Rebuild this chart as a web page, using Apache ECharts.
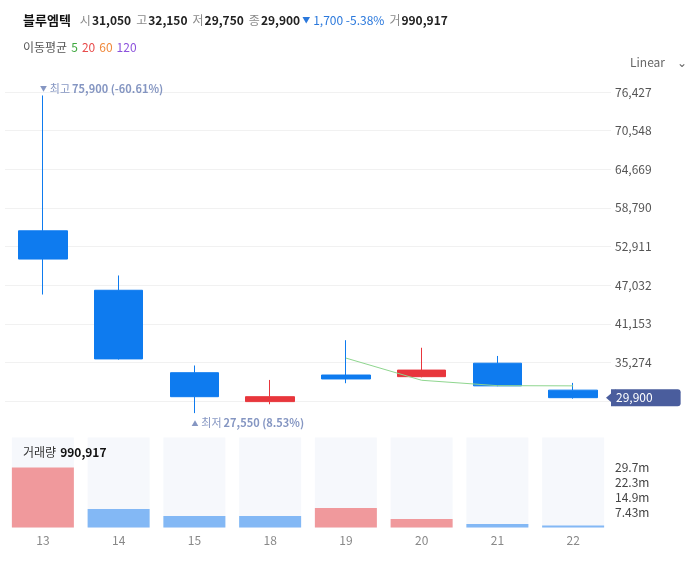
<!DOCTYPE html>
<html>
<head>
<meta charset="utf-8">
<script src="https://cdn.jsdelivr.net/npm/echarts@6/dist/echarts.min.js"></script>
<style>
html,body{margin:0;padding:0;background:#fff;}
#chart{width:693px;height:566px;}
</style>
</head>
<body>
<div id="chart"></div>
<script>
// ---- data ----
var categories = ['13', '14', '15', '18', '19', '20', '21', '22'];
var openValues  = [55300, 46250, 33700, 29300, 33350, 33100, 35150, 31050];
var closeValues = [51000, 35800, 30050, 30050, 32750, 34100, 31700, 29900];
var lowValues   = [45600, 35700, 27550, 28900, 32100, 33000, 31650, 29750];
var highValues  = [75900, 48500, 34800, 32600, 38650, 37500, 36250, 32150];
var ma5Values   = [null, null, null, null, 35930, 32550, 31730, 31700];
var volumeValues = [29700000, 9200000, 5700000, 5700000, 9650000, 4200000, 1700000, 990917];
var volumeUp     = [true, false, false, false, true, true, false, false];
var priceTickStep = 5879;
var priceAxisMin = 29395;
var priceAxisMax = 76427;
var volumeTickStep = 7430000;
var volumeAxisMax = 44580000;
var lastClose = 29900;
var highLabel = { idx: 0, value: 75900, text: '최고', pct: '(-60.61%)' };
var lowLabel  = { idx: 2, value: 27550, text: '최저', pct: '(8.53%)' };

function fmt(n) { return String(n).replace(/\B(?=(\d{3})+(?!\d))/g, ','); }

var FONT = "'Noto Sans CJK KR', 'Noto Sans', sans-serif";
var UP = '#e8363c', DOWN = '#0e7bef';
var MARK = '#667cb3';

var candleData = categories.map(function (c, i) {
  return [openValues[i], closeValues[i], lowValues[i], highValues[i]];
});

function extremeLabel(arrow, item, offset) {
  return {
    value: [item.idx, item.value],
    label: {
      show: true, position: 'right', distance: 0, offset: offset,
      formatter: '{a|' + arrow + '}{t|' + item.text + '}{n|' + fmt(item.value) + ' ' + item.pct + '}',
      rich: {
        a: { fontSize: 7, color: MARK, fontFamily: FONT, padding: [0, 3, 0, 0] },
        t: { fontSize: 11, color: MARK, fontFamily: FONT, padding: [0, 2, 0, 0] },
        n: { fontSize: 11, color: MARK, fontWeight: 'bold', fontFamily: FONT }
      }
    }
  };
}

var chart = echarts.init(document.getElementById('chart'), null, { renderer: 'canvas' });

var option = {
  animation: false,
  backgroundColor: '#ffffff',
  textStyle: { fontFamily: FONT },
  title: [
    {
      left: 23, top: 11, padding: 0,
      text: '{n|블루엠텍}{l|시}{v|31,050}{l|고}{v|32,150}{l|저}{v|29,750}{l|종}{w|29,900}{a|▼}{b|1,700 -5.38%}{l|거}{v|990,917}',
      textStyle: {
        fontFamily: FONT, fontWeight: 'normal',
        rich: {
          n: { fontSize: 13, fontWeight: 'bold', color: '#111', fontFamily: FONT, lineHeight: 18, padding: [0, 9, 0, 0] },
          l: { fontSize: 12, fontWeight: 'normal', color: '#8a8a8a', fontFamily: FONT, lineHeight: 18, padding: [0, 1, 0, 0] },
          v: { fontSize: 12, fontWeight: 'bold', color: '#222', fontFamily: FONT, lineHeight: 18, padding: [0, 5, 0, 0] },
          w: { fontSize: 12, fontWeight: 'bold', color: '#222', fontFamily: FONT, lineHeight: 18, padding: [0, 2, 0, 0] },
          a: { fontSize: 8, fontWeight: 'normal', color: '#2a78dc', fontFamily: FONT, lineHeight: 18, padding: [0, 3, 0, 0] },
          b: { fontSize: 12, fontWeight: 'normal', color: '#2a78dc', fontFamily: FONT, lineHeight: 18, padding: [0, 5, 0, 0] }
        }
      }
    },
    {
      left: 23, top: 38, padding: 0,
      text: '{l|이동평균} {g|5} {r|20} {o|60} {p|120}',
      textStyle: {
        fontFamily: FONT, fontWeight: 'normal',
        rich: {
          l: { fontSize: 12, fontWeight: 'normal', color: '#555', fontFamily: FONT, lineHeight: 18 },
          g: { fontSize: 12, fontWeight: 'normal', color: '#3ea83e', fontFamily: FONT, lineHeight: 18 },
          r: { fontSize: 12, fontWeight: 'normal', color: '#e84a4a', fontFamily: FONT, lineHeight: 18 },
          o: { fontSize: 12, fontWeight: 'normal', color: '#f0883a', fontFamily: FONT, lineHeight: 18 },
          p: { fontSize: 12, fontWeight: 'normal', color: '#8c52dc', fontFamily: FONT, lineHeight: 18 }
        }
      }
    },
    {
      right: 6, top: 53, padding: 0,
      text: '{t|Linear}{c|⌄}',
      textStyle: {
        fontFamily: FONT, fontWeight: 'normal',
        rich: {
          t: { fontSize: 12, color: '#666', fontWeight: 'normal', fontFamily: FONT, lineHeight: 18, padding: [0, 12, 0, 0] },
          c: { fontSize: 12, color: '#666', fontWeight: 'normal', fontFamily: FONT, lineHeight: 18 }
        }
      }
    },
    {
      left: 23, top: 443, padding: 0,
      text: '{l|거래량} {v|990,917}',
      textStyle: {
        fontFamily: FONT, fontWeight: 'normal',
        rich: {
          l: { fontSize: 12, fontWeight: 'normal', color: '#333', fontFamily: FONT, lineHeight: 18 },
          v: { fontSize: 12, color: '#111', fontWeight: 'bold', fontFamily: FONT, lineHeight: 18 }
        }
      }
    }
  ],
  grid: [
    { left: 5, right: 82, top: 92, height: 309 },
    { left: 5, right: 82, top: 437.5, height: 90 }
  ],
  xAxis: [
    { type: 'category', gridIndex: 0, data: categories, show: false, boundaryGap: true },
    {
      type: 'category', gridIndex: 1, data: categories, boundaryGap: true,
      axisLine: { show: false }, axisTick: { show: false },
      axisLabel: { color: '#888', fontSize: 12, margin: 7, fontFamily: FONT }
    }
  ],
  yAxis: [
    {
      type: 'value', gridIndex: 0, position: 'right', scale: true,
      min: priceAxisMin, max: priceAxisMax, interval: priceTickStep,
      axisLine: { show: false }, axisTick: { show: false },
      splitLine: { show: true, lineStyle: { color: '#f1f1f1', width: 1 } },
      axisLabel: {
        color: '#555', fontSize: 12, margin: 4, fontFamily: FONT,
        showMinLabel: false,
        formatter: function (v) { return fmt(Math.round(v)); }
      }
    },
    {
      type: 'value', gridIndex: 1, position: 'right',
      min: 0, max: volumeAxisMax, interval: volumeTickStep,
      axisLine: { show: false }, axisTick: { show: false },
      splitLine: { show: false },
      axisLabel: {
        color: '#444', fontSize: 12, margin: 4, fontFamily: FONT,
        showMinLabel: false, showMaxLabel: false,
        formatter: function (v) {
          if (v <= 0 || v > 30000000) return '';
          return (v / 1e6).toPrecision(3) + 'm';
        }
      }
    }
  ],
  series: [
    {
      type: 'candlestick',
      xAxisIndex: 0, yAxisIndex: 0,
      data: candleData,
      barWidth: 49,
      clip: false,
      itemStyle: {
        color: UP, color0: DOWN,
        borderColor: UP, borderColor0: DOWN,
        borderWidth: 1
      },
      markLine: {
        silent: true,
        symbol: ['none', 'triangle'],
        symbolSize: [17, 10],
        symbolRotate: 90,
        lineStyle: { color: '#4a5d9d', width: 0, type: 'solid' },
        label: {
          show: true, position: 'end', distance: 0,
          formatter: fmt(lastClose),
          color: '#fff', fontSize: 12, fontFamily: FONT,
          backgroundColor: '#4a5d9d',
          padding: [2, 28, 2, 5], borderRadius: [0, 3, 3, 0],
          lineHeight: 13
        },
        data: [{ yAxis: lastClose }]
      }
    },
    {
      type: 'line',
      xAxisIndex: 0, yAxisIndex: 0,
      data: ma5Values,
      symbol: 'none',
      lineStyle: { color: '#8fd68f', width: 1 },
      connectNulls: false
    },
    {
      type: 'scatter',
      xAxisIndex: 0, yAxisIndex: 0,
      clip: false, silent: true,
      symbolSize: 0,
      itemStyle: { color: 'rgba(0,0,0,0)' },
      data: [
        extremeLabel('▼', highLabel, [-3, -7]),
        extremeLabel('▲', lowLabel, [-3, 10])
      ]
    },
    {
      type: 'bar',
      xAxisIndex: 1, yAxisIndex: 1,
      data: volumeValues,
      barWidth: 62,
      showBackground: true,
      backgroundStyle: { color: '#f6f8fc' },
      itemStyle: {
        color: function (p) { return volumeUp[p.dataIndex] ? '#f0999c' : '#83b8f5'; }
      }
    }
  ]
};

chart.setOption(option);
</script>
</body>
</html>
